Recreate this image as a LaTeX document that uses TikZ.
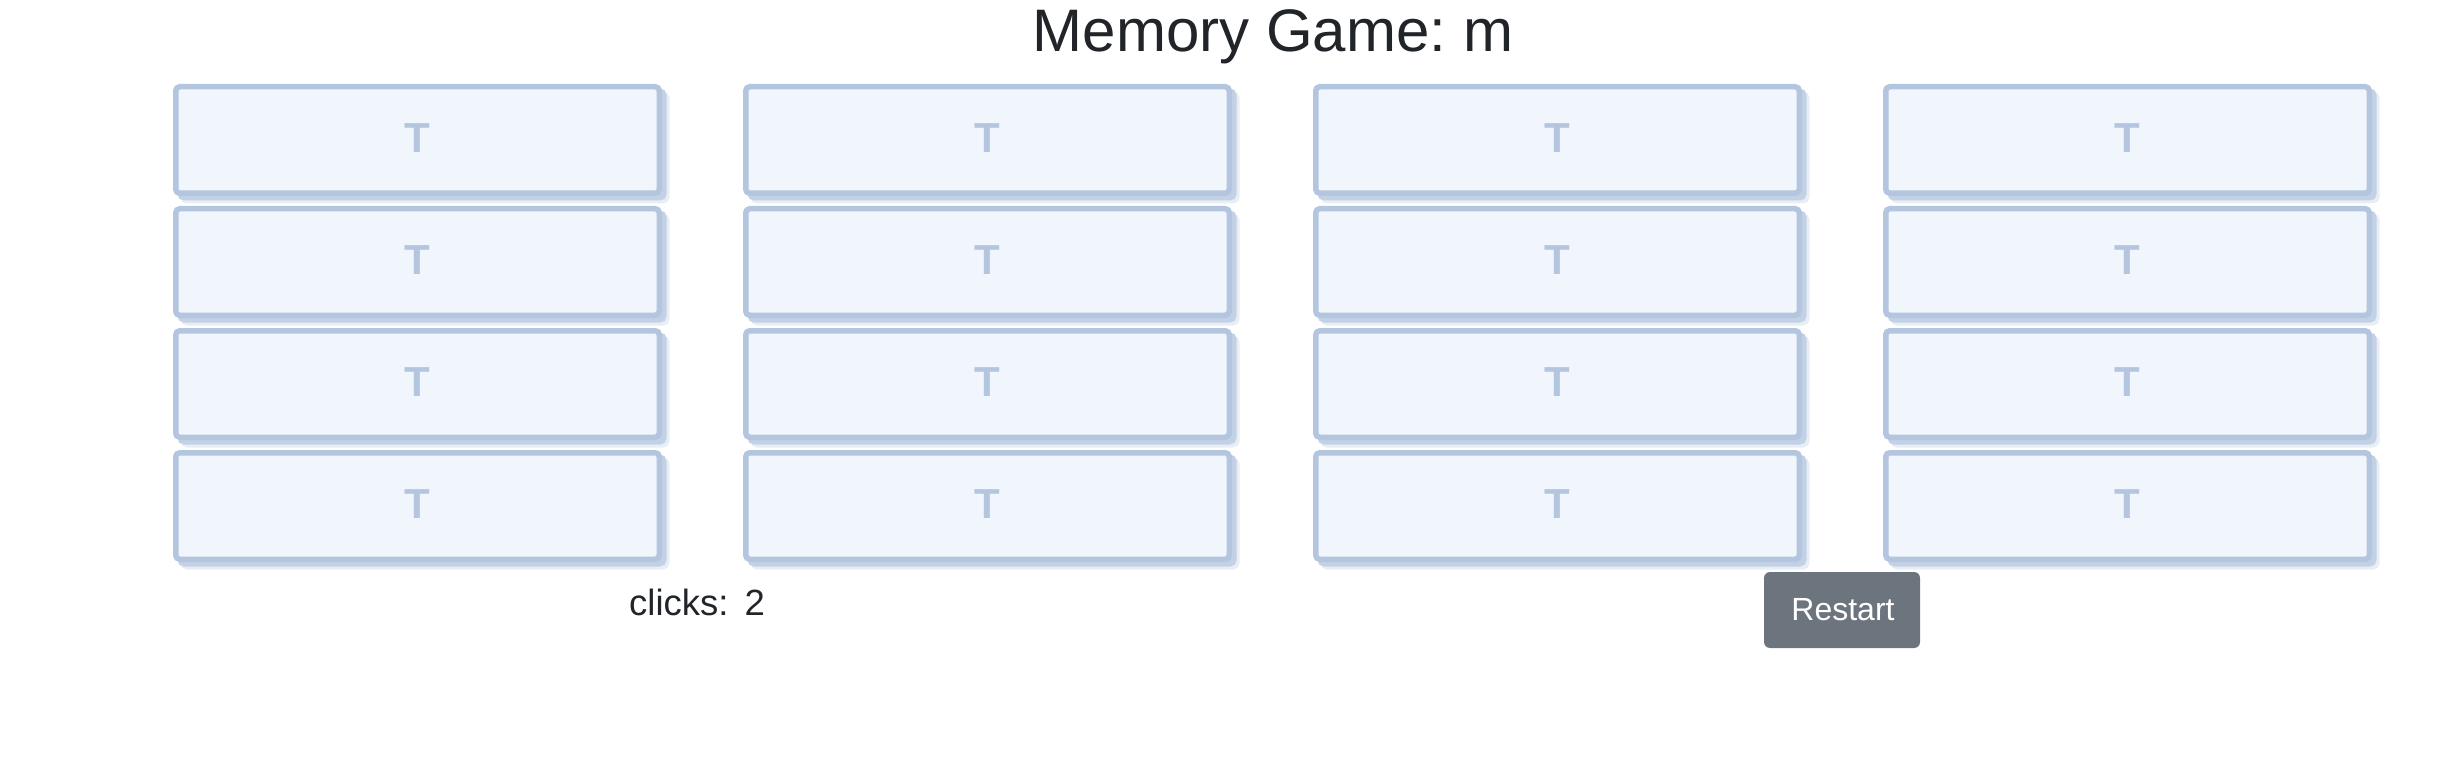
\documentclass[tikz,border=0pt]{standalone}
\usepackage{fontspec}
\setmainfont{Liberation Sans}
\frenchspacing
\definecolor{cardborder}{RGB}{180,198,223}
\definecolor{cardfill}{RGB}{241,246,253}
\definecolor{titlec}{RGB}{33,37,41}
\definecolor{btnc}{RGB}{108,117,125}
\tikzset{
  card/.style={draw=cardborder, fill=cardfill, line width=5.5pt, rounded corners=4pt,
    minimum width=483.5pt, minimum height=106.5pt, inner sep=0pt,
    text=cardborder, font=\bfseries\fontsize{42}{50}\selectfont,
    preaction={draw=cardborder!30, fill=cardborder!30, line width=5.5pt,
      transform canvas={xshift=7.5pt,yshift=-7.5pt}},
    preaction={draw=cardborder!80, fill=cardborder!80, line width=5.5pt,
      transform canvas={xshift=4.5pt,yshift=-4.5pt}}},
  titletext/.style={anchor=base, text=titlec, inner sep=0pt, font=\fontsize{60}{72}\selectfont},
  clicktext/.style={anchor=base west, text=titlec, inner sep=0pt, font=\fontsize{36.5}{44}\selectfont},
  btn/.style={fill=btnc, draw=none, rounded corners=6pt, minimum width=156pt, minimum height=76pt,
    inner sep=0pt},
  btntext/.style={anchor=base, text=white, inner sep=0pt, font=\fontsize{32}{38}\selectfont}
}
\begin{document}
\begin{tikzpicture}[x=1pt,y=-1pt]
\useasboundingbox (0,0) rectangle (2454,762);
\node[titletext] (title) at (1273,52) {Memory Game: m};
\foreach \i in {0,1,2,3}{
  \foreach \j in {0,1,2,3}{
    \node[card] (c\i\j) at ({173+570*\i+244.5},{84+122*\j+56}) {\raisebox{3pt}{T}};
  }
}
\node[clicktext] (clicks) at (629,615) {clicks:\hspace{6pt} 2};
\node[btn] (restart) at (1842,610) {};
\node[btntext] (restartlabel) at (1843,620) {Restart};
\end{tikzpicture}
\end{document}
